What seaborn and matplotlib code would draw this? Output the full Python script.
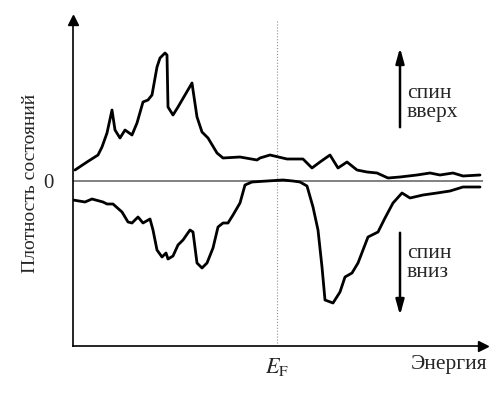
import numpy as np
import pandas as pd
import seaborn as sns
from matplotlib import pyplot as plt

# energy and density of states, arbitrary units
energy_up = [2, 14, 25, 29, 34, 39, 42, 47, 52, 59, 64, 70, 75, 79, 84, 87, 92, 94, 95, 100,
             105, 112, 119, 120, 124, 129, 135, 144, 150, 167, 184, 187, 197, 214, 230, 239,
             247, 257, 265, 274, 284, 294, 304, 315, 327, 344, 357, 367, 380, 390, 407]
dos_up = [11, 19, 26, 34, 48, 71, 51, 43, 51, 46, 58, 79, 81, 86, 114, 123, 128, 126, 74, 66,
          74, 86, 98, 91, 64, 49, 43, 28, 23, 24, 21, 23, 26, 22, 22, 13,
          19, 26, 13, 19, 11, 9, 8, 3, 4, 6, 8, 6, 8, 5, 6]

energy_down = [0, 12, 19, 30, 34, 40, 49, 55, 59, 65, 70, 77, 80, 84, 89, 93, 95, 100, 105,
               110, 117, 120, 124, 129, 134, 140, 145, 150, 155, 160, 167, 172, 179, 194, 210,
               220, 227, 234, 240, 245, 249, 252, 260, 267, 272, 279, 285, 295, 305, 312, 320,
               329, 337, 350, 364, 377, 390, 407]
dos_down = [-19, -21, -18, -21, -23, -23, -31, -41, -42, -36, -42, -38, -49, -69, -76, -72, -78,
            -75, -64, -59, -49, -51, -82, -87, -82, -67, -46, -42, -42, -34, -22, -4, -1, 0, 1,
            0, -1, -5, -26, -49, -86, -119, -122, -111, -96, -92, -82, -56, -51, -37, -22,
            -12, -17, -14, -12, -10, -6, -6]

x_ticks = [92, 204, 316]
x_ticklabels = ['', r'$E_\mathrm{F}$', '']
y_ticks = [-91, 0, 91]
y_ticklabels = ['', '0', '']

sns.set_style('white')
plt.rcParams['font.family'] = ['Liberation Serif', 'DejaVu Serif']
plt.rcParams['mathtext.fontset'] = 'stix'

df_up = pd.DataFrame({'energy': energy_up, 'dos': dos_up})
df_down = pd.DataFrame({'energy': energy_down, 'dos': dos_down})

fig = plt.figure(figsize=(5.03, 3.94), dpi=100)
ax = fig.add_axes([73 / 503, 48 / 394, 410 / 503, 326 / 394])

ax.axhline(0, color='#808080', lw=1.4, zorder=1)
ax.axvline(204, color='#909090', lw=0.8, ls=':', zorder=1)

sns.lineplot(data=df_up, x='energy', y='dos', ax=ax, color='black', lw=2.0, sort=False)
sns.lineplot(data=df_down, x='energy', y='dos', ax=ax, color='black', lw=2.0, sort=False)

ax.set_xlim(0, 410)
ax.set_ylim(-165, 161)

ax.set_xticks(x_ticks)
ax.set_xticklabels(x_ticklabels, fontsize=16)
ax.set_yticks(y_ticks)
ax.set_yticklabels(y_ticklabels, fontsize=15)
ax.tick_params(axis='both', direction='out', length=4, width=1.0, color='#333333')
ax.tick_params(axis='y', pad=10)

for side in ['top', 'right']:
    ax.spines[side].set_visible(False)
for side in ['left', 'bottom']:
    ax.spines[side].set_color('black')
    ax.spines[side].set_linewidth(1.2)
ax.plot(0, 1, marker='^', color='black', ms=7, transform=ax.transAxes, clip_on=False)
ax.plot(1, 0, marker='>', color='black', ms=7, transform=ax.transAxes, clip_on=False)

ax.set_xlabel('')
ax.set_ylabel('Плотность состояний', fontsize=14, labelpad=3)
ax.text(414, -184, 'Энергия', fontsize=15.5, ha='right', va='center', clip_on=False)

# spin arrows
ax.annotate('', xy=(327, 136), xytext=(327, 51),
            arrowprops=dict(arrowstyle='-|>,head_length=0.9,head_width=0.25', color='black', lw=1.8))
ax.annotate('', xy=(327, -137), xytext=(327, -49),
            arrowprops=dict(arrowstyle='-|>,head_length=0.9,head_width=0.25', color='black', lw=1.8))
ax.text(334, 78, 'спин\nвверх', fontsize=15.5, ha='left', va='center', linespacing=1.0)
ax.text(334, -82, 'спин\nвниз', fontsize=15.5, ha='left', va='center', linespacing=1.0)

plt.savefig('out.png', dpi=100)
